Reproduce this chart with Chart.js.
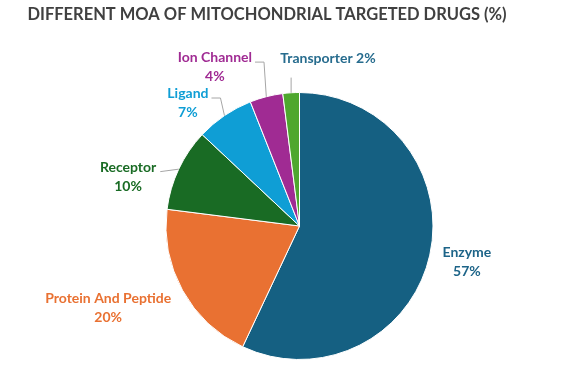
<!DOCTYPE html>
<html><head><meta charset="utf-8">
<script src="https://cdn.jsdelivr.net/npm/chart.js@4.4.1/dist/chart.umd.min.js"></script>
<style>html,body{margin:0;padding:0;background:#fff;} #wrap{width:587px;height:368px;position:relative;}</style>
</head><body><div id="wrap"><canvas id="c" width="587" height="368"></canvas></div>
<script>
const TITLE = 'DIFFERENT MOA OF MITOCHONDRIAL TARGETED DRUGS (%)';
const categories = ['Enzyme', 'Protein And Peptide', 'Receptor', 'Ligand', 'Ion Channel', 'Transporter'];
const shares = [57, 20, 10, 7, 4, 2];

// styles
const sliceColors = ['#156082', '#E97132', '#196B24', '#0F9ED5', '#A02B93', '#4EA72E'];
const labelColors = ['#1D6488', '#E97132', '#196B24', '#0F9ED5', '#A02B93', '#276C8E'];
// label placement relative to pie centre, in units of the pie radius
const labelLayout = [
  {fx: 1.254, fy: 0.269, oneLine: false, leader: 'none'},
  {fx: -1.433, fy: 0.612, oneLine: false, leader: 'none'},
  {fx: -1.284, fy: -0.366, oneLine: false, leader: 'straight'},
  {fx: -0.836, fy: -0.925, oneLine: false, leader: 'elbow'},
  {fx: -0.634, fy: -1.194, oneLine: false, leader: 'elbow'},
  {fx: 0.213, fy: -1.254, oneLine: true, leader: 'vertical'}
];
const LABEL_FONT = 'bold 14px Lato';
const LINE_H = 19;

const labelPlugin = {
  id: 'pieLabels',
  afterDraw(chart) {
    const ctx = chart.ctx;
    ctx.save();
    // title
    ctx.font = 'bold 16.5px Lato';
    ctx.fillStyle = '#404040';
    ctx.textAlign = 'center';
    ctx.textBaseline = 'middle';
    ctx.fillText(TITLE, 267, 15);

    const meta = chart.getDatasetMeta(0);
    meta.data.forEach((arc, i) => {
      const p = arc.getProps(['x', 'y', 'startAngle', 'endAngle', 'outerRadius'], true);
      const R = p.outerRadius;
      const lay = labelLayout[i];
      const cx = p.x + lay.fx * R;
      const cy = p.y + lay.fy * R;
      ctx.font = LABEL_FONT;
      ctx.fillStyle = labelColors[i];
      ctx.textAlign = 'center';
      ctx.textBaseline = 'middle';
      const pct = shares[i] + '%';
      let firstY, firstW;
      if (lay.oneLine) {
        const t = categories[i] + ' ' + pct;
        ctx.fillText(t, cx, cy);
        firstY = cy; firstW = ctx.measureText(t).width;
      } else {
        firstY = cy - LINE_H / 2;
        ctx.fillText(categories[i], cx, firstY);
        ctx.fillText(pct, cx, cy + LINE_H / 2);
        firstW = ctx.measureText(categories[i]).width;
      }
      const mid = (p.startAngle + p.endAngle) / 2;
      const ex = p.x + Math.cos(mid) * R;
      const ey = p.y + Math.sin(mid) * R;
      ctx.strokeStyle = '#A6A6A6';
      ctx.lineWidth = 1;
      ctx.beginPath();
      if (lay.leader === 'vertical') {
        ctx.moveTo(ex, ey);
        ctx.lineTo(ex, cy + LINE_H);
      } else if (lay.leader === 'elbow') {
        const endX = cx + firstW / 2 + 3;
        const ly = firstY + 5;
        ctx.moveTo(ex, ey);
        ctx.lineTo(endX + 9, ly);
        ctx.lineTo(endX, ly);
      } else if (lay.leader === 'straight') {
        const endX = cx + firstW / 2 + 4;
        ctx.moveTo(endX, firstY + 4);
        ctx.lineTo(ex, ey);
      }
      if (lay.leader !== 'none') ctx.stroke();
    });
    ctx.restore();
  }
};

new Chart(document.getElementById('c'), {
  type: 'pie',
  data: {
    labels: categories,
    datasets: [{
      data: shares,
      backgroundColor: sliceColors,
      borderColor: '#ffffff',
      borderWidth: 1
    }]
  },
  options: {
    responsive: false,
    animation: false,
    layout: {padding: {left: 165, right: 153, top: 92, bottom: 8}},
    plugins: {
      legend: {display: false},
      tooltip: {enabled: false},
      title: {display: false}
    }
  },
  plugins: [labelPlugin]
});
</script>
</body></html>
